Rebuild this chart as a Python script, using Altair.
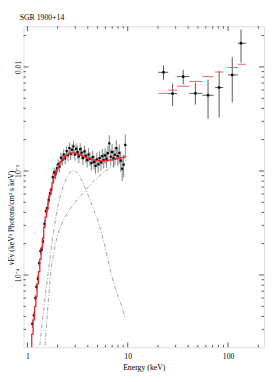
import altair as alt
import pandas as pd

# ---------------- data ----------------
# low-energy spectrum (keV, nuFnu)
lo_e = [1.12, 1.16, 1.20, 1.23, 1.27, 1.31, 1.35, 1.39, 1.43, 1.48, 1.53, 1.58, 1.63, 1.68,
        1.73, 1.79, 1.85, 1.91, 1.97, 2.03, 2.09, 2.16, 2.23, 2.30, 2.38, 2.46, 2.54, 2.62,
        2.70, 2.79, 2.88, 2.97, 3.06, 3.16, 3.26, 3.36, 3.47, 3.58, 3.70, 3.82, 3.94, 4.07,
        4.20, 4.34, 4.48, 4.62, 4.77, 4.92, 5.08, 5.24, 5.41, 5.58, 5.76, 5.95, 6.14, 6.34,
        6.55, 6.76, 6.98, 7.21, 7.45, 7.70, 7.96, 8.23, 8.51, 8.80, 9.10, 9.45]
lo_f = [3.4e-5, 4.1e-5, 6.0e-5, 7.7e-5, 9.2e-5, 1.3e-4, 1.7e-4, 1.75e-4, 2.1e-4, 3.1e-4,
        4.1e-4, 4.4e-4, 5.3e-4, 6.1e-4, 6.6e-4, 8.7e-4, 9.7e-4, 9.3e-4, 1.06e-3, 1.16e-3,
        1.10e-3, 1.34e-3, 1.27e-3, 1.44e-3, 1.32e-3, 1.55e-3, 1.42e-3, 1.66e-3, 1.46e-3,
        1.60e-3, 1.72e-3, 1.44e-3, 1.63e-3, 1.52e-3, 1.38e-3, 1.62e-3, 1.50e-3, 1.33e-3,
        1.54e-3, 1.40e-3, 1.27e-3, 1.44e-3, 1.31e-3, 1.19e-3, 1.36e-3, 1.22e-3, 1.12e-3,
        1.29e-3, 1.16e-3, 1.33e-3, 1.21e-3, 1.39e-3, 1.27e-3, 1.41e-3, 1.31e-3, 1.48e-3,
        1.84e-3, 1.37e-3, 1.52e-3, 1.33e-3, 1.43e-3, 1.66e-3, 1.39e-3, 1.49e-3, 1.26e-3,
        1.05e-3, 1.15e-3, 1.78e-3]
lo_err = [0.09, 0.09, 0.08, 0.08, 0.08, 0.08, 0.08, 0.09, 0.09, 0.09, 0.09, 0.10, 0.10, 0.10,
          0.10, 0.10, 0.11, 0.11, 0.11, 0.11, 0.12, 0.12, 0.12, 0.12, 0.12, 0.12, 0.13, 0.13,
          0.13, 0.13, 0.13, 0.13, 0.13, 0.14, 0.14, 0.14, 0.14, 0.14, 0.14, 0.15, 0.15, 0.15,
          0.15, 0.15, 0.15, 0.16, 0.16, 0.16, 0.16, 0.16, 0.17, 0.17, 0.17, 0.17, 0.18, 0.18,
          0.20, 0.18, 0.19, 0.19, 0.19, 0.20, 0.20, 0.21, 0.22, 0.24, 0.24, 0.26]

# model (red) at low energy
mod_e = [1.09, 1.12, 1.16, 1.20, 1.23, 1.27, 1.31, 1.35, 1.39, 1.43, 1.48, 1.53, 1.58, 1.63,
         1.68, 1.73, 1.79, 1.85, 1.91, 1.97, 2.03, 2.09, 2.16, 2.23, 2.30, 2.38, 2.46, 2.54,
         2.62, 2.70, 2.79, 2.88, 2.97, 3.06, 3.16, 3.26, 3.36, 3.47, 3.58, 3.70, 3.82, 3.94,
         4.07, 4.20, 4.34, 4.48, 4.62, 4.77, 4.92, 5.08, 5.24, 5.41, 5.58, 5.76, 5.95, 6.14,
         6.34, 6.55, 6.76, 6.98, 7.21, 7.45, 7.70, 7.96, 8.23, 8.51, 8.80, 9.10, 9.45]
mod_f = [1.9e-5, 2.7e-5, 3.7e-5, 5.0e-5, 6.2e-5, 8.2e-5, 1.08e-4, 1.42e-4, 1.8e-4, 2.25e-4,
         2.9e-4, 3.6e-4, 4.3e-4, 5.1e-4, 5.9e-4, 6.7e-4, 7.7e-4, 8.6e-4, 9.4e-4, 1.01e-3,
         1.08e-3, 1.15e-3, 1.22e-3, 1.28e-3, 1.33e-3, 1.37e-3, 1.41e-3, 1.44e-3, 1.465e-3,
         1.48e-3, 1.49e-3, 1.49e-3, 1.485e-3, 1.475e-3, 1.46e-3, 1.445e-3, 1.43e-3, 1.41e-3,
         1.39e-3, 1.37e-3, 1.35e-3, 1.335e-3, 1.32e-3, 1.305e-3, 1.29e-3, 1.28e-3, 1.27e-3,
         1.265e-3, 1.26e-3, 1.255e-3, 1.25e-3, 1.25e-3, 1.25e-3, 1.25e-3, 1.255e-3, 1.26e-3,
         1.265e-3, 1.27e-3, 1.275e-3, 1.28e-3, 1.29e-3, 1.295e-3, 1.305e-3, 1.315e-3,
         1.325e-3, 1.335e-3, 1.345e-3, 1.355e-3, 1.37e-3]

# model components (grey dash-dot)
bb_e = [1.33, 1.40, 1.50, 1.60, 1.70, 1.80, 1.90, 2.00, 2.15, 2.30, 2.50, 2.75, 3.00, 3.25,
        3.50, 3.80, 4.20, 4.60, 5.00, 5.50, 6.00, 6.50, 7.00, 7.50, 8.00, 8.50, 9.00, 9.50]
bb_f = [2.1e-5, 3.4e-5, 6.0e-5, 1.0e-4, 1.6e-4, 2.4e-4, 3.4e-4, 4.5e-4, 6.0e-4, 7.3e-4,
        8.9e-4, 1.02e-3, 1.0e-3, 9.2e-4, 8.0e-4, 6.7e-4, 5.3e-4, 4.2e-4, 3.4e-4, 2.5e-4,
        1.8e-4, 1.25e-4, 9.5e-5, 7.5e-5, 6.2e-5, 5.4e-5, 4.5e-5, 3.8e-5]
pl_e = [1.50, 1.60, 1.73, 1.90, 2.10, 2.40, 2.70, 3.00, 3.60, 4.20, 5.00, 5.50, 6.00, 7.00,
        8.00, 9.00, 9.90]
pl_f = [2.1e-5, 5.0e-5, 1.2e-4, 2.0e-4, 2.8e-4, 3.7e-4, 4.4e-4, 5.0e-4, 6.2e-4, 7.3e-4,
        8.6e-4, 9.3e-4, 1.0e-3, 1.1e-3, 1.18e-3, 1.24e-3, 1.29e-3]

# high-energy spectrum
hi_e = [22.7, 28.0, 35.7, 47.2, 63.1, 81.4, 110.0, 134.5]
hi_elo = [20.2, 25.3, 31.0, 41.1, 55.3, 74.3, 99.8, 125.0]
hi_ehi = [25.3, 31.0, 41.1, 55.3, 71.6, 89.5, 125.0, 150.6]
hi_f = [0.00887, 0.00554, 0.00807, 0.00557, 0.00534, 0.00634, 0.00838, 0.01687]
hi_flo = [0.00752, 0.00422, 0.00681, 0.00434, 0.00319, 0.00326, 0.00457, 0.0110]
hi_fhi = [0.01037, 0.0069, 0.00938, 0.00705, 0.00752, 0.00918, 0.0124, 0.0229]
hi_model = [0.00557, 0.00598, 0.00652, 0.00725, 0.00807, 0.00893, 0.00987, 0.0106]

x_major = [1, 10, 100]
x_minor = [2, 3, 4, 5, 6, 7, 8, 9, 20, 30, 40, 50, 60, 70, 80, 90, 200]
y_major = [1e-4, 1e-3, 1e-2]
y_minor = [3e-5, 4e-5, 5e-5, 6e-5, 7e-5, 8e-5, 9e-5,
           2e-4, 3e-4, 4e-4, 5e-4, 6e-4, 7e-4, 8e-4, 9e-4,
           2e-3, 3e-3, 4e-3, 5e-3, 6e-3, 7e-3, 8e-3, 9e-3, 2e-2]

title_text = "SGR 1900+14"
x_title = "Energy (keV)"
y_title = "νFν (keV² Photons/cm² s keV)"

# ---------------- chart ----------------
W, H = 248, 331
FONT = "Liberation Serif"
xs = alt.Scale(type="log", domain=[0.915, 228], nice=False)
ys = alt.Scale(type="log", domain=[2.02e-5, 0.0246], nice=False)

bounds = [lo_e[0] - (lo_e[1] - lo_e[0]) / 2]
for a, b in zip(lo_e[:-1], lo_e[1:]):
    bounds.append((a + b) / 2)
bounds.append(lo_e[-1] + (lo_e[-1] - lo_e[-2]) / 2)

lo_df = pd.DataFrame({
    "e": lo_e, "f": lo_f,
    "flo": [f * (1 - r) for f, r in zip(lo_f, lo_err)],
    "fhi": [f * (1 + r) for f, r in zip(lo_f, lo_err)],
    "elo": bounds[:-1], "ehi": bounds[1:],
})
mod_df = pd.DataFrame({"e": mod_e, "f": mod_f})
bb_df = pd.DataFrame({"e": bb_e, "f": bb_f})
pl_df = pd.DataFrame({"e": pl_e, "f": pl_f})
hi_df = pd.DataFrame({"e": hi_e, "elo": hi_elo, "ehi": hi_ehi, "f": hi_f,
                      "flo": hi_flo, "fhi": hi_fhi, "m": hi_model})

x_axis = alt.Axis(values=x_major, ticks=False, domain=False, grid=False,
                  labelExpr="datum.value >= 100 ? '100' : datum.value >= 10 ? '10' : '1'",
                  labelFont=FONT, labelFontSize=8, labelColor="black", labelPadding=6,
                  labelFlush=False, title=x_title, titleFont=FONT, titleFontSize=8,
                  titleFontWeight="normal", titleColor="black", titlePadding=3)
y_axis = alt.Axis(values=y_major, ticks=False, domain=False, grid=False,
                  labelExpr="datum.value > 0.005 ? '0.01' : datum.value > 0.0005 ? '10⁻³' : '10⁻⁴'",
                  labelAngle=270, labelAlign="center", labelBaseline="bottom",
                  labelFont=FONT, labelFontSize=8, labelColor="black", labelPadding=1,
                  title=y_title, titleFont=FONT, titleFontSize=8, titleFontWeight="normal",
                  titleColor="black", titleAngle=270, titleX=-12, titleY=197,
                  titleAlign="center", titleBaseline="middle")


def X(field):
    return alt.X(field, scale=xs, axis=x_axis)


def Y(field):
    return alt.Y(field, scale=ys, axis=y_axis)


dash = [4, 2, 1, 2]
bb = alt.Chart(bb_df).mark_line(color="#a0a0a0", strokeWidth=1, strokeDash=dash,
                                clip=True).encode(x=X("e:Q"), y=Y("f:Q"))
pl = alt.Chart(pl_df).mark_line(color="#a0a0a0", strokeWidth=1, strokeDash=dash,
                                clip=True).encode(x=X("e:Q"), y=Y("f:Q"))

lo_v = alt.Chart(lo_df).mark_rule(color="#808080", strokeWidth=1, clip=True).encode(
    x=X("e:Q"), y=Y("flo:Q"), y2="fhi:Q")
lo_h = alt.Chart(lo_df).mark_rule(color="#808080", strokeWidth=1, clip=True).encode(
    x=X("elo:Q"), x2="ehi:Q", y=Y("f:Q"))
lo_p = alt.Chart(lo_df).mark_square(size=5, color="black", opacity=1).encode(
    x=X("e:Q"), y=Y("f:Q"))
model = alt.Chart(mod_df).mark_line(color="#e8202a", strokeWidth=1.3, interpolate="step",
                                    clip=True).encode(x=X("e:Q"), y=Y("f:Q"))

hi_v = alt.Chart(hi_df).mark_rule(color="#555555", strokeWidth=1).encode(
    x=X("e:Q"), y=Y("flo:Q"), y2="fhi:Q")
hi_h = alt.Chart(hi_df).mark_rule(color="#555555", strokeWidth=1).encode(
    x=X("elo:Q"), x2="ehi:Q", y=Y("f:Q"))
hi_p = alt.Chart(hi_df).mark_square(size=6, color="black", opacity=1).encode(
    x=X("e:Q"), y=Y("f:Q"))
hi_m = alt.Chart(hi_df).mark_rule(color="#f06060", strokeWidth=1).encode(
    x=X("elo:Q"), x2="ehi:Q", y=Y("m:Q"))

TICK = "#555555"


def xticks(vals, length):
    d = pd.DataFrame({"v": vals})
    bottom = alt.Chart(d).mark_rule(color=TICK, strokeWidth=1).encode(
        x=X("v:Q"), y=alt.value(H), y2=alt.value(H - length))
    top = alt.Chart(d).mark_rule(color=TICK, strokeWidth=1).encode(
        x=X("v:Q"), y=alt.value(0), y2=alt.value(length))
    return [bottom, top]


def yticks(vals, length):
    d = pd.DataFrame({"v": vals})
    left = alt.Chart(d).mark_rule(color=TICK, strokeWidth=1).encode(
        y=Y("v:Q"), x=alt.value(0), x2=alt.value(length))
    right = alt.Chart(d).mark_rule(color=TICK, strokeWidth=1).encode(
        y=Y("v:Q"), x=alt.value(W), x2=alt.value(W - length))
    return [left, right]


ticks = xticks(x_major, 5) + xticks(x_minor, 2.5) + yticks(y_major, 5) + yticks(y_minor, 2.5)

title = alt.Chart(pd.DataFrame({"t": [title_text]})).mark_text(
    align="left", baseline="alphabetic", font=FONT, fontSize=8, color="black").encode(
    x=alt.value(-4), y=alt.value(-6), text="t:N")

chart = alt.layer(bb, pl, lo_v, lo_h, lo_p, model, hi_v, hi_h, hi_p, hi_m, *ticks, title).properties(
    width=W, height=H,
    autosize=alt.AutoSizeParams(type="none"),
    padding={"left": 16, "top": 13, "right": 1, "bottom": 30},
).configure_view(stroke="#555555", strokeWidth=1).configure(background="white")

chart.save("out.html", embed_options={"renderer": "svg", "actions": False})
